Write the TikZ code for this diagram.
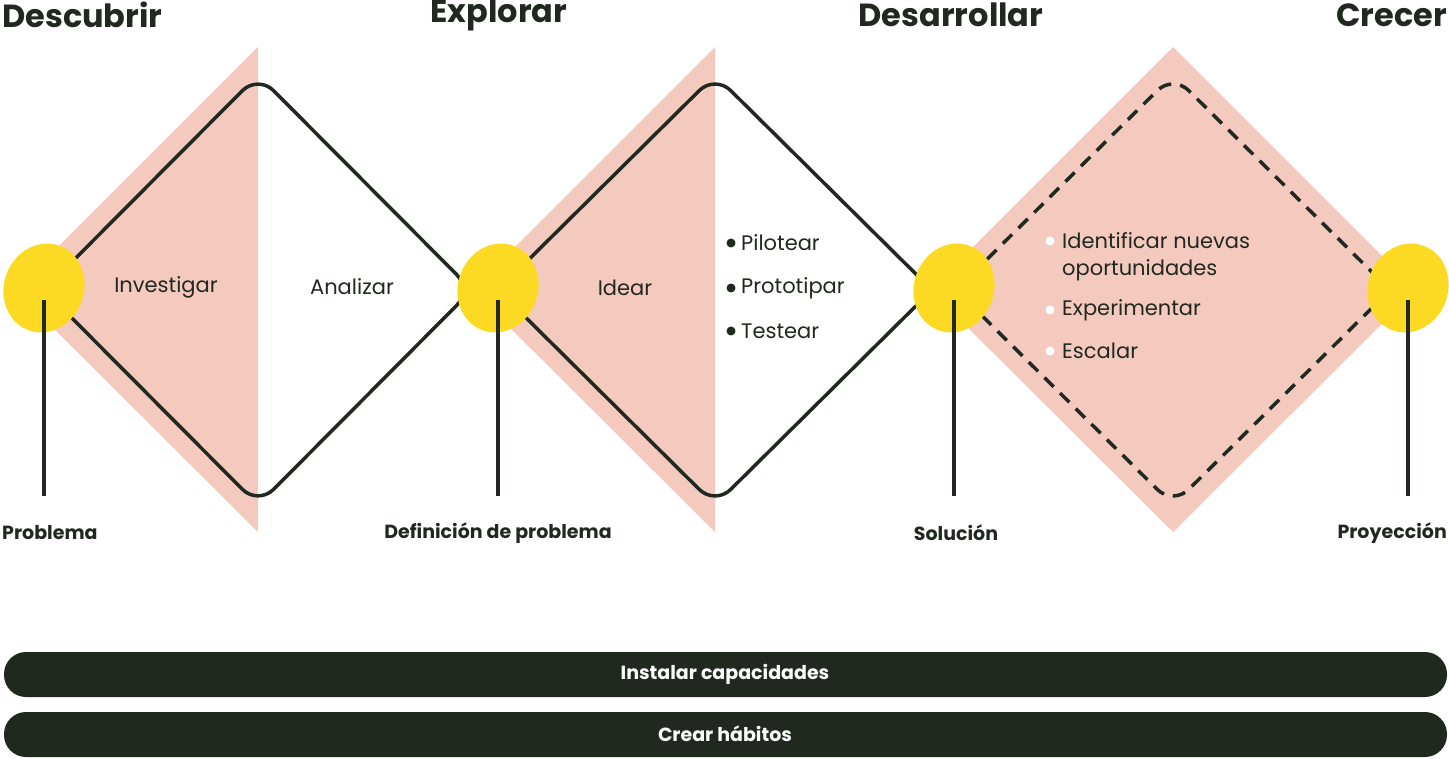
\documentclass[tikz,border=0pt]{standalone}
\usepackage{fontspec}
\setmainfont{Poppins}
\usepackage{tikz}
\usetikzlibrary{calc,positioning}
\definecolor{rosa}{HTML}{F4CABF}
\definecolor{amarillo}{HTML}{FCDA24}
\definecolor{oscuro}{HTML}{212820}
\tikzset{
  fase/.style={font=\bfseries\fontsize{32}{34}\selectfont, text=oscuro, inner sep=0pt},
  hito/.style={font=\bfseries\fontsize{19}{21}\selectfont, text=oscuro, inner sep=0pt},
  etapa/.style={font=\fontsize{21}{24}\selectfont, text=oscuro, inner sep=0pt},
  mancha/.style={fill=amarillo, draw=none, ellipse, minimum width=80pt, minimum height=90pt},
  barra/.style={fill=oscuro, rounded corners=22pt},
  linea/.style={line width=3.5pt, draw=oscuro, rounded corners=22pt},
}
\usetikzlibrary{shapes.geometric}
\begin{document}
\begin{tikzpicture}[x=1pt,y=-1pt]
    \useasboundingbox (0,0) rectangle (1449,759);
    % zonas rosadas
    \fill[rosa] (15,290) -- (258,47) -- (258,532) -- cycle;
    \fill[rosa] (472,290) -- (715,47) -- (715,532) -- cycle;
    \fill[rosa] (930,290) -- (1173,47) -- (1416,290) -- (1173,532) -- cycle;
    % rombos
    \draw[linea] (44,290) -- (258,75) -- (472,290) -- (258,505) -- cycle;
    \draw[linea] (498,290) -- (715,75) -- (932,290) -- (715,505) -- cycle;
    \draw[linea, dash pattern=on 13pt off 9pt] (956,290) -- (1173,75) -- (1390,290) -- (1173,505) -- cycle;
    % manchas y lineas
    \foreach \n/\x in {p1/44, p2/498, p3/954, p4/1408}{
        \node[mancha, rotate=-20] (\n) at (\x,288) {};
        \coordinate (\n-a) at (\x,300);
        \coordinate (\n-b) at (\x,496);
        \draw[line width=3.5pt, oscuro] (\n-a) -- (\n-b);
    }
    \node[hito, anchor=west] (problema) at (2,533) {Problema};
    \node[hito] (definicion) at (498,533) {Definición de problema};
    \node[hito] (solucion) at (956,533) {Solución};
    \node[hito, anchor=east] (proyeccion) at (1447,533) {Proyección};
    % fases
    \node[fase, anchor=west] (descubrir) at (2,15) {Descubrir};
    \node[fase] (explorar) at (499,15) {Explorar};
    \node[fase] (desarrollar) at (951,15) {Desarrollar};
    \node[fase, anchor=east] (crecer) at (1447,15) {Crecer};
    % etapas
    \node[etapa] (investigar) at (166,287) {Investigar};
    \node[etapa] (analizar) at (352,287) {Analizar};
    \node[etapa] (idear) at (625,288) {Idear};
    \foreach \t/\y in {Pilotear/243, Prototipar/288, Testear/331}{
        \fill[oscuro] (731,\y) circle (4.5pt);
        \node[etapa, anchor=west] at (741,\y) {\t};
    }
    \foreach \t/\y in {Identificar nuevas/241, Experimentar/310, Escalar/351}{
        \fill[white] (1050,\y) circle (4.5pt);
        \node[etapa, anchor=west] at (1062,\y) {\t};
    }
    \node[etapa, anchor=west] (oportunidades) at (1062,270) {oportunidades};
    % barras
    \fill[barra] (4,652) rectangle (1447,697);
    \fill[barra] (4,712) rectangle (1447,757);
    \node[hito, text=white] (capacidades) at (725,674) {Instalar capacidades};
    \node[hito, text=white] (habitos) at (725,734) {Crear hábitos};
\end{tikzpicture}
\end{document}
